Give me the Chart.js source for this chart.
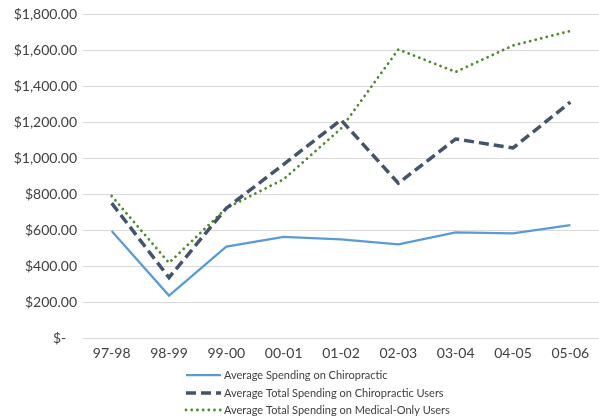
<!DOCTYPE html>
<html>
<head>
<meta charset="utf-8">
<script src="https://cdn.jsdelivr.net/npm/chart.js@4/dist/chart.umd.min.js"></script>
<style>
  html, body { margin: 0; padding: 0; background: #ffffff; }
  #wrap { width: 599px; height: 419px; position: relative; }
</style>
</head>
<body>
<div id="wrap"><canvas id="c" width="599" height="419"></canvas></div>
<script>
// Fiscal years on the x axis
const years = ['97-98', '98-99', '99-00', '00-01', '01-02', '02-03', '03-04', '04-05', '05-06'];

// Average spending per user, in dollars
const chiroSpending = [595, 236, 508, 563, 549, 521, 588, 582, 628];
const chiroUsersTotal = [750, 336, 722, 966, 1213, 861, 1107, 1057, 1312];
const medicalOnlyTotal = [790, 418, 722, 883, 1165, 1605, 1480, 1627, 1708];

const seriesNames = [
  'Average Spending on Chiropractic',
  'Average Total Spending on Chiropractic Users',
  'Average Total Spending on Medical-Only Users'
];

// Y axis: $0 to $1,800 in steps of $200
const yMax = 1800;
const yStep = 200;

const FONT = 'Lato, "Open Sans", sans-serif';

function money(v) {
  if (v === 0) return '$-   ';
  return '$' + v.toLocaleString('en-US', { minimumFractionDigits: 2, maximumFractionDigits: 2 });
}

// Legend drawn as a vertical stack of line samples under the axis
const stackedLegend = {
  id: 'stackedLegend',
  afterDraw(chart) {
    const ctx = chart.ctx;
    const rows = [375, 393, 410];
    const x0 = 186, x1 = 221;
    ctx.save();
    chart.data.datasets.forEach((ds, i) => {
      const y = rows[i];
      ctx.beginPath();
      ctx.strokeStyle = ds.borderColor;
      ctx.lineWidth = ds.borderWidth;
      ctx.lineCap = ds.borderCapStyle || 'butt';
      ctx.setLineDash(ds.borderDash || []);
      ctx.moveTo(x0, y);
      ctx.lineTo(x1, y);
      ctx.stroke();
      ctx.setLineDash([]);
      ctx.fillStyle = '#404040';
      ctx.font = '11px ' + FONT;
      ctx.textBaseline = 'middle';
      ctx.textAlign = 'left';
      ctx.fillText(ds.label, 224, y);
    });
    ctx.restore();
  }
};

new Chart(document.getElementById('c'), {
  type: 'line',
  data: {
    labels: years,
    datasets: [
      {
        label: seriesNames[0],
        data: chiroSpending,
        borderColor: '#5B9BD5',
        borderWidth: 2.25,
        pointRadius: 0,
        tension: 0,
        fill: false
      },
      {
        label: seriesNames[1],
        data: chiroUsersTotal,
        borderColor: '#44546A',
        borderWidth: 3.5,
        borderDash: [10, 5],
        pointRadius: 0,
        tension: 0,
        fill: false
      },
      {
        label: seriesNames[2],
        data: medicalOnlyTotal,
        borderColor: '#4F8A2C',
        borderWidth: 2.8,
        borderDash: [0.01, 5.7],
        borderCapStyle: 'round',
        pointRadius: 0,
        tension: 0,
        fill: false
      }
    ]
  },
  options: {
    responsive: false,
    animation: false,
    layout: { padding: { top: 14, right: 0, bottom: 0, left: 0 } },
    plugins: {
      legend: { display: false },
      tooltip: { enabled: false }
    },
    scales: {
      x: {
        offset: true,
        grid: { display: false, drawTicks: false },
        border: { display: false },
        ticks: {
          color: '#404040',
          font: { family: FONT, size: 14 },
          padding: 7,
          maxRotation: 0,
          autoSkip: false
        },
        afterFit(scale) { scale.height = 81; }
      },
      y: {
        min: 0,
        max: yMax,
        grid: { color: '#D9D9D9', lineWidth: 1, drawTicks: false },
        border: { display: false },
        ticks: {
          stepSize: yStep,
          color: '#404040',
          font: { family: FONT, size: 14 },
          padding: 6,
          callback: (v) => money(v)
        },
        afterFit(scale) { scale.width = 83; }
      }
    }
  },
  plugins: [stackedLegend]
});
</script>
</body>
</html>
